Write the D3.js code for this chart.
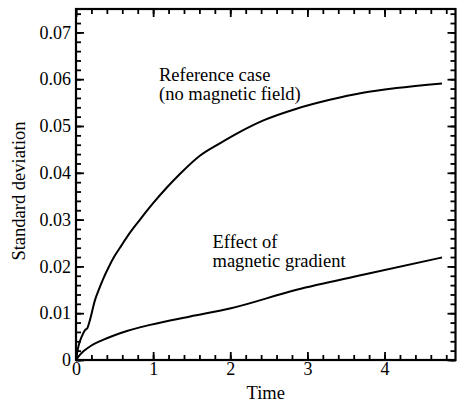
<!DOCTYPE html>
<html>
<head>
<meta charset="utf-8">
<script src="https://d3js.org/d3.v7.min.js"></script>
<style>
  body { margin: 0; background: #fff; }
  svg { display: block; font-family: "Liberation Serif", "Times New Roman", serif; }
</style>
</head>
<body>
<div class="visHolder"></div>
<script>
// reference case (no magnetic field)
var refTime = [0, 0.03, 0.074, 0.117, 0.147, 0.18, 0.246, 0.3, 0.36, 0.42, 0.5, 0.59, 0.7, 0.83, 1.0, 1.175, 1.35, 1.61, 1.865, 2.12, 2.43, 2.86, 3.29, 3.72, 4.15, 4.745];
var refStd = [0, 0.0028, 0.005, 0.0064, 0.0068, 0.0085, 0.0128, 0.0152, 0.0176, 0.0197, 0.0222, 0.0245, 0.0272, 0.03, 0.0335, 0.0368, 0.0398, 0.0437, 0.0463, 0.0487, 0.0512, 0.0537, 0.0556, 0.0571, 0.0581, 0.0591];

// effect of magnetic gradient
var magTime = [0, 0.05, 0.1, 0.2, 0.35, 0.5, 0.66, 0.96, 1.48, 1.995, 2.86, 3.72, 4.745];
var magStd = [0, 0.0011, 0.0019, 0.0031, 0.0043, 0.0053, 0.0062, 0.0075, 0.0093, 0.011, 0.015, 0.0182, 0.0219];

var xTicks = [0, 1, 2, 3, 4];
var yTicks = [0, 0.01, 0.02, 0.03, 0.04, 0.05, 0.06, 0.07];

var margin = { top: 9, left: 76 },
    width = 379.5,
    height = 351;

var svg = d3
    .select(".visHolder")
    .append("svg")
    .attr("width", 459)
    .attr("height", 404);

var g = svg.append("g").attr("transform", "translate(" + margin.left + "," + margin.top + ")");

var xScale = d3.scaleLinear().domain([0, 4.92]).range([0, width]);
var yScale = d3.scaleLinear().domain([0, 0.075]).range([height, 0]);

var xMinor = d3.range(0, 4.92, 0.2);
var yMinor = d3.range(0, 0.0751, 0.002);

function tickStyle(sel) {
    sel.select(".domain").remove();
    sel.selectAll("line").attr("stroke", "#000").attr("stroke-width", 1.8);
}

// minor ticks (all four sides, pointing inward)
g.append("g").attr("transform", "translate(0," + height + ")")
    .call(d3.axisBottom(xScale).tickValues(xMinor).tickSize(-5).tickFormat(""))
    .call(tickStyle);
g.append("g")
    .call(d3.axisTop(xScale).tickValues(xMinor).tickSize(-5).tickFormat(""))
    .call(tickStyle);
g.append("g")
    .call(d3.axisLeft(yScale).tickValues(yMinor).tickSize(-5).tickFormat(""))
    .call(tickStyle);
g.append("g").attr("transform", "translate(" + width + ",0)")
    .call(d3.axisRight(yScale).tickValues(yMinor).tickSize(-5).tickFormat(""))
    .call(tickStyle);

// major ticks with labels
var xAxis = g.append("g").attr("transform", "translate(0," + height + ")")
    .call(d3.axisBottom(xScale).tickValues(xTicks).tickSize(-8).tickPadding(5).tickFormat(d3.format("d")))
    .call(tickStyle);
xAxis.selectAll("text")
    .attr("font-size", 18)
    .attr("fill", "#000")
    .attr("dy", "0.55em")
    .attr("font-family", "Liberation Serif");

var yAxis = g.append("g")
    .call(d3.axisLeft(yScale).tickValues(yTicks).tickSize(-8).tickPadding(5)
        .tickFormat(function (d) { return d === 0 ? "0" : d3.format(".2f")(d); }))
    .call(tickStyle);
yAxis.selectAll("text")
    .attr("font-size", 18)
    .attr("fill", "#000")
    .attr("font-family", "Liberation Serif");

g.append("g")
    .call(d3.axisTop(xScale).tickValues(xTicks).tickSize(-8).tickFormat(""))
    .call(tickStyle);
g.append("g").attr("transform", "translate(" + width + ",0)")
    .call(d3.axisRight(yScale).tickValues(yTicks).tickSize(-8).tickFormat(""))
    .call(tickStyle);

// frame
g.append("rect")
    .attr("width", width)
    .attr("height", height)
    .attr("fill", "none")
    .attr("stroke", "#000")
    .attr("stroke-width", 2.2);

// curves
var line = d3.line()
    .x(function (d) { return xScale(d[0]); })
    .y(function (d) { return yScale(d[1]); })
    .curve(d3.curveMonotoneX);

var series = [d3.zip(refTime, refStd), d3.zip(magTime, magStd)];

g.selectAll(".curve")
    .data(series)
    .enter()
    .append("path")
    .attr("class", "curve")
    .attr("d", line)
    .attr("fill", "none")
    .attr("stroke", "#000")
    .attr("stroke-width", 2);

// annotations
var notes = [
    { x: 83, y: 72, lines: ["Reference case", "(no magnetic field)"] },
    { x: 136.5, y: 239, lines: ["Effect of", "magnetic gradient"] }
];

notes.forEach(function (n) {
    n.lines.forEach(function (s, i) {
        g.append("text")
            .attr("x", n.x)
            .attr("y", n.y + i * 18.5)
            .attr("font-size", 18.5)
            .attr("fill", "#000")
            .text(s);
    });
});

// axis titles
svg.append("text")
    .attr("x", margin.left + width / 2)
    .attr("y", 399)
    .attr("text-anchor", "middle")
    .attr("font-size", 18.5)
    .text("Time");

svg.append("text")
    .attr("transform", "rotate(-90)")
    .attr("x", -191)
    .attr("y", 25)
    .attr("text-anchor", "middle")
    .attr("font-size", 18.5)
    .text("Standard deviation");
</script>
</body>
</html>
